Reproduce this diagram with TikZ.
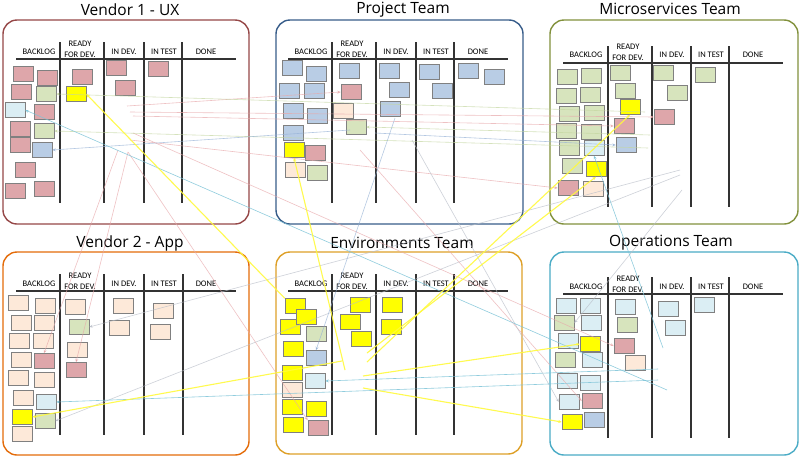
\documentclass[tikz,border=0pt]{standalone}
\usepackage{fontspec}
\setmainfont{Carlito}
\newfontfamily\titlefont{Open Sans}
\usetikzlibrary{arrows.meta}

\definecolor{uxred}{RGB}{150,72,72}
\definecolor{prjblue}{RGB}{56,93,138}
\definecolor{msgreen}{RGB}{130,145,60}
\definecolor{apporange}{RGB}{228,108,10}
\definecolor{envgold}{RGB}{222,160,40}
\definecolor{opsteal}{RGB}{75,172,198}
\definecolor{notepink}{RGB}{222,166,170}
\definecolor{notegreen}{RGB}{215,228,189}
\definecolor{noteblue}{RGB}{185,205,229}
\definecolor{notecyan}{RGB}{219,238,244}
\definecolor{notepeach}{RGB}{253,233,217}
\definecolor{notelemon}{RGB}{255,255,0}
\definecolor{linepink}{RGB}{232,168,170}
\definecolor{linegreen}{RGB}{196,214,160}
\definecolor{lineblue}{RGB}{150,178,214}
\definecolor{linecyan}{RGB}{125,196,216}
\definecolor{lineyellow}{RGB}{255,250,60}
\definecolor{linegray}{RGB}{185,190,200}

\begin{document}
\begin{tikzpicture}[x=1pt,y=-1pt,
    board/.style={line width=1.4pt, rounded corners=14pt},
    lane/.style={line width=1.1pt, draw=black!80},
    head/.style={font=\fontsize{8.5}{11}\selectfont, align=center, inner sep=0pt},
    title/.style={font=\titlefont\fontsize{15.5}{18}\selectfont, inner sep=0pt},
    note/.style={draw=black!50, line width=0.5pt, minimum width=20pt, minimum height=15pt, inner sep=0pt},
    pk/.style={note, fill=notepink},
    gr/.style={note, fill=notegreen},
    bl/.style={note, fill=noteblue},
    cy/.style={note, fill=notecyan},
    pe/.style={note, fill=notepeach},
    ye/.style={note, fill=notelemon},
    dep/.style={line width=0.6pt, draw opacity=0.7, -{Stealth[length=3.5pt,width=3pt]}},
    deppink/.style={dep, draw=linepink},
    depgreen/.style={dep, draw=linegreen},
    depblue/.style={dep, draw=lineblue},
    depcyan/.style={dep, draw=linecyan, draw opacity=0.85},
    depgray/.style={dep, draw=linegray},
    depyellow/.style={dep, draw=lineyellow, line width=1.1pt, draw opacity=0.9},
  ]
  \fill[white] (0,0) rectangle (800,461);
  \useasboundingbox (0,0) rectangle (800,461);

  % boards
  \begin{scope}[shift={(3,20)}]
    \draw[board, draw=uxred] (0,0) rectangle (246,204);
    \node[title] (uxtitle) at (127,-10) {Vendor 1 - UX};
    \draw[lane] (13,39) -- (233,39);
    \draw[lane] (57,22) -- (57,183);
    \draw[lane] (101,22) -- (101,183);
    \draw[lane] (141,22) -- (141,183);
    \draw[lane] (179,22) -- (179,183);
    \node[head] (uxbl) at (36,32) {BACKLOG};
    \node[head] (uxrd) at (77,29) {READY\\FOR DEV.};
    \node[head] (uxdv) at (121,32) {IN DEV.};
    \node[head] (uxts) at (161,32) {IN TEST};
    \node[head] (uxdn) at (203,32) {DONE};
  \end{scope}

  \begin{scope}[shift={(276,20)}]
    \draw[board, draw=prjblue] (0,0) rectangle (247,204);
    \node[title] (prjtitle) at (127,-10) {Project Team};
    \draw[lane] (12,39) -- (232,39);
    \draw[lane] (56,22) -- (56,183);
    \draw[lane] (100,22) -- (100,183);
    \draw[lane] (140,22) -- (140,183);
    \draw[lane] (178,22) -- (178,183);
    \node[head] (prjbl) at (35,32) {BACKLOG};
    \node[head] (prjrd) at (76,29) {READY\\FOR DEV.};
    \node[head] (prjdv) at (120,32) {IN DEV.};
    \node[head] (prjts) at (160,32) {IN TEST};
    \node[head] (prjdn) at (202,32) {DONE};
  \end{scope}

  \begin{scope}[shift={(550,20)}]
    \draw[board, draw=msgreen] (0,0) rectangle (248,204);
    \node[title] (mstitle) at (120,-11) {Microservices Team};
    \draw[lane] (13,43) -- (233,43);
    \draw[lane] (58,26) -- (58,187);
    \draw[lane] (102,26) -- (102,187);
    \draw[lane] (141,26) -- (141,187);
    \draw[lane] (179,26) -- (179,187);
    \node[head] (msbl) at (36,35) {BACKLOG};
    \node[head] (msrd) at (78,32) {READY\\FOR DEV.};
    \node[head] (msdv) at (122,35) {IN DEV.};
    \node[head] (msts) at (161,35) {IN TEST};
    \node[head] (msdn) at (203,35) {DONE};
  \end{scope}

  \begin{scope}[shift={(3,252)}]
    \draw[board, draw=apporange] (0,0) rectangle (246,203);
    \node[title] (apptitle) at (127,-9) {Vendor 2 - App};
    \draw[lane] (13,39) -- (233,39);
    \draw[lane] (57,22) -- (57,183);
    \draw[lane] (101,22) -- (101,183);
    \draw[lane] (141,22) -- (141,183);
    \draw[lane] (180,22) -- (180,183);
    \node[head] (appbl) at (36,32) {BACKLOG};
    \node[head] (apprd) at (77,29) {READY\\FOR DEV.};
    \node[head] (appdv) at (121,32) {IN DEV.};
    \node[head] (appts) at (161,32) {IN TEST};
    \node[head] (appdn) at (203,32) {DONE};
  \end{scope}

  \begin{scope}[shift={(276,252)}]
    \draw[board, draw=envgold] (0,0) rectangle (246,202);
    \node[title] (envtitle) at (126,-9) {Environments Team};
    \draw[lane] (12,39) -- (232,39);
    \draw[lane] (56,22) -- (56,183);
    \draw[lane] (100,22) -- (100,183);
    \draw[lane] (140,22) -- (140,183);
    \draw[lane] (178,22) -- (178,183);
    \node[head] (envbl) at (35,32) {BACKLOG};
    \node[head] (envrd) at (76,29) {READY\\FOR DEV.};
    \node[head] (envdv) at (120,32) {IN DEV.};
    \node[head] (envts) at (160,32) {IN TEST};
    \node[head] (envdn) at (202,32) {DONE};
  \end{scope}

  \begin{scope}[shift={(550,252)}]
    \draw[board, draw=opsteal] (0,0) rectangle (248,203);
    \node[title] (opstitle) at (121,-9) {Operations Team};
    \draw[lane] (13,42) -- (233,42);
    \draw[lane] (58,25) -- (58,186);
    \draw[lane] (102,25) -- (102,186);
    \draw[lane] (141,25) -- (141,186);
    \draw[lane] (179,25) -- (179,186);
    \node[head] (opsbl) at (36,35) {BACKLOG};
    \node[head] (opsrd) at (78,32) {READY\\FOR DEV.};
    \node[head] (opsdv) at (122,35) {IN DEV.};
    \node[head] (opsts) at (161,35) {IN TEST};
    \node[head] (opsdn) at (203,35) {DONE};
  \end{scope}

  % Vendor 1 - UX
  \node[pk] (vux1) at (23,74) {};
  \node[pk] (vux2) at (47,78) {};
  \node[pk] (vux3) at (21,92) {};
  \node[gr] (vux4) at (46,94) {};
  \node[cy] (vux5) at (15,110) {};
  \node[pk] (vux6) at (44,112) {};
  \node[pk] (vux7) at (20,129) {};
  \node[gr] (vux8) at (44,131) {};
  \node[pk] (vux9) at (20,145) {};
  \node[bl] (vux10) at (42,150) {};
  \node[pk] (vux11) at (25,170) {};
  \node[pk] (vux12) at (15,191) {};
  \node[pk] (vux13) at (44,189) {};
  \node[pk] (vux14) at (82,77) {};
  \node[ye] (vux15) at (76,94) {};
  \node[pk] (vux16) at (116,68) {};
  \node[pk] (vux17) at (125,88) {};
  \node[pk] (vux18) at (158,69) {};

  % Project Team
  \node[bl] (prj1) at (292,68) {};
  \node[bl] (prj2) at (316,74) {};
  \node[bl] (prj3) at (289,91) {};
  \node[bl] (prj4) at (314,91) {};
  \node[bl] (prj5) at (293,111) {};
  \node[bl] (prj6) at (317,116) {};
  \node[bl] (prj7) at (293,133) {};
  \node[ye] (prj8) at (294,150) {};
  \node[pk] (prj9) at (315,153) {};
  \node[pe] (prj10) at (295,170) {};
  \node[gr] (prj11) at (317,173) {};
  \node[bl] (prj12) at (349,71) {};
  \node[pk] (prj13) at (351,92) {};
  \node[pe] (prj14) at (343,111) {};
  \node[gr] (prj15) at (356,127) {};
  \node[bl] (prj16) at (389,71) {};
  \node[bl] (prj17) at (399,90) {};
  \node[bl] (prj18) at (390,109) {};
  \node[bl] (prj19) at (429,72) {};
  \node[bl] (prj20) at (442,91) {};
  \node[bl] (prj21) at (468,71) {};
  \node[bl] (prj22) at (494,77) {};

  % Microservices Team
  \node[gr] (msv1) at (567,77) {};
  \node[gr] (msv2) at (591,76) {};
  \node[gr] (msv3) at (566,96) {};
  \node[gr] (msv4) at (590,95) {};
  \node[gr] (msv5) at (569,114) {};
  \node[gr] (msv6) at (594,113) {};
  \node[gr] (msv7) at (566,131) {};
  \node[gr] (msv8) at (591,132) {};
  \node[gr] (msv9) at (569,148) {};
  \node[cy] (msv10) at (594,148) {};
  \node[gr] (msv11) at (572,166) {};
  \node[ye] (msv12) at (596,169) {};
  \node[pk] (msv13) at (568,188) {};
  \node[pe] (msv14) at (593,189) {};
  \node[gr] (msv15) at (620,73) {};
  \node[gr] (msv16) at (625,91) {};
  \node[ye] (msv17) at (630,107) {};
  \node[pk] (msv18) at (624,126) {};
  \node[bl] (msv19) at (626,145) {};
  \node[gr] (msv20) at (663,73) {};
  \node[gr] (msv21) at (677,93) {};
  \node[pk] (msv22) at (664,117) {};
  \node[gr] (msv23) at (705,75) {};

  % Vendor 2 - App
  \node[pe] (app1) at (18,303) {};
  \node[pe] (app2) at (45,306) {};
  \node[pe] (app3) at (21,323) {};
  \node[pe] (app4) at (44,323) {};
  \node[pe] (app5) at (19,341) {};
  \node[pe] (app6) at (43,341) {};
  \node[pe] (app7) at (21,360) {};
  \node[pk] (app8) at (44,361) {};
  \node[pe] (app9) at (18,378) {};
  \node[pe] (app10) at (44,380) {};
  \node[pe] (app11) at (23,398) {};
  \node[cy] (app12) at (46,402) {};
  \node[ye] (app13) at (22,417) {};
  \node[gr] (app14) at (45,421) {};
  \node[pe] (app15) at (22,434) {};
  \node[pe] (app16) at (75,307) {};
  \node[gr] (app17) at (79,327) {};
  \node[pe] (app18) at (77,350) {};
  \node[pk] (app19) at (76,370) {};
  \node[pe] (app20) at (123,306) {};
  \node[pe] (app21) at (119,328) {};
  \node[pe] (app22) at (163,311) {};
  \node[pe] (app23) at (160,332) {};

  % Environments Team
  \node[ye] (env1) at (295,306) {};
  \node[ye] (env3) at (290,327) {};
  \node[ye] (env2) at (306,317) {};
  \node[gr] (env4) at (316,334) {};
  \node[ye] (env5) at (293,349) {};
  \node[bl] (env6) at (316,358) {};
  \node[ye] (env7) at (292,373) {};
  \node[cy] (env8) at (315,381) {};
  \node[pe] (env9) at (292,390) {};
  \node[ye] (env10) at (292,407) {};
  \node[ye] (env11) at (316,409) {};
  \node[ye] (env12) at (293,425) {};
  \node[pk] (env13) at (318,428) {};
  \node[ye] (env14) at (360,305) {};
  \node[ye] (env15) at (350,322) {};
  \node[ye] (env16) at (361,339) {};
  \node[ye] (env17) at (392,305) {};
  \node[ye] (env18) at (391,327) {};

  % Operations Team
  \node[cy] (ops1) at (566,306) {};
  \node[cy] (ops2) at (590,306) {};
  \node[gr] (ops3) at (564,323) {};
  \node[cy] (ops4) at (591,323) {};
  \node[cy] (ops5) at (568,341) {};
  \node[ye] (ops6) at (590,344) {};
  \node[gr] (ops7) at (565,360) {};
  \node[cy] (ops8) at (592,360) {};
  \node[cy] (ops9) at (567,381) {};
  \node[cy] (ops10) at (590,383) {};
  \node[cy] (ops11) at (569,402) {};
  \node[pk] (ops12) at (592,401) {};
  \node[ye] (ops13) at (572,422) {};
  \node[bl] (ops14) at (594,420) {};
  \node[cy] (ops15) at (625,307) {};
  \node[gr] (ops16) at (627,325) {};
  \node[pk] (ops17) at (624,346) {};
  \node[pe] (ops18) at (635,363) {};
  \node[cy] (ops19) at (668,309) {};
  \node[cy] (ops20) at (675,328) {};
  \node[cy] (ops21) at (704,305) {};

  % dependency starting points
  \coordinate (uxa) at (127,106);
  \coordinate (uxb) at (133,116);
  \coordinate (uxc) at (130,112);
  \coordinate (uxd) at (130,140);
  \coordinate (uxe) at (133,133);
  \coordinate (uxf) at (118,150);
  \coordinate (uxg) at (128,152);
  \coordinate (prja) at (350,130);
  \coordinate (prjb) at (375,133);
  \coordinate (prjc) at (395,118);
  \coordinate (prjd) at (412,140);
  \coordinate (prje) at (360,150);
  \coordinate (msa) at (645,112);
  \coordinate (msb) at (648,148);
  \coordinate (msc) at (650,135);
  \coordinate (msd) at (680,170);
  \coordinate (mse) at (680,175);
  \coordinate (msf) at (682,190);
  \coordinate (envb) at (345,370);
  \coordinate (envc) at (367,362);
  \coordinate (envd) at (367,353);
  \coordinate (enve) at (342,361);
  \coordinate (envf) at (363,376);
  \coordinate (envg) at (363,388);
  \coordinate (opsa) at (667,390);
  \coordinate (opsb) at (658,369);
  \coordinate (opsc) at (658,380);
  \coordinate (opsd) at (663,348);

  % dependencies
  \draw[deppink] (uxa) -- (prj13.west);
  \draw[deppink] (uxb) -- (msv18.west);
  \draw[deppink] (uxc) -- (msv22.west);
  \draw[deppink] (uxd) -- (msv13.west);
  \draw[deppink] (uxe) -- (ops17.west);
  \draw[deppink] (uxf) -- (app8.north);
  \draw[deppink] (uxg) -- (app19.north);
  \draw[deppink] (uxg) -- (env13.north west);
  \draw[deppink] (prje) -- (ops12.west);

  \draw[depgreen] (msa) -- (vux4.east);
  \draw[depgreen] (msb) -- (vux8.east);
  \draw[depgreen] (msc) -- (prj15.east);
  \draw[depgray] (msd) -- (app17.east);
  \draw[depgray] (mse) -- (app14.east);
  \draw[depgray] (msf) -- (ops3.east);

  \draw[depblue] (prja) -- (vux10.east);
  \draw[depblue] (prjb) -- (msv19.west);
  \draw[depblue] (prjc) -- (env6.north);
  \draw[depgray] (prjd) -- (ops11.west);

  \draw[depcyan] (opsa) -- (vux5.east);
  \draw[depcyan] (opsb) -- (env8.east);
  \draw[depcyan] (opsc) -- (app12.east);
  \draw[depcyan] (opsd) -- (msv10.south);

  \draw[depyellow] (env1.north west) -- (vux15.east);
  \draw[depyellow] (envb) -- (prj8.south);
  \draw[depyellow] (envc) -- (msv17.south);
  \draw[depyellow] (envd) -- (msv12.south);
  \draw[depyellow] (enve) -- (app13.east);
  \draw[depyellow] (envf) -- (ops6.west);
  \draw[depyellow] (envg) -- (ops13.west);
\end{tikzpicture}
\end{document}
